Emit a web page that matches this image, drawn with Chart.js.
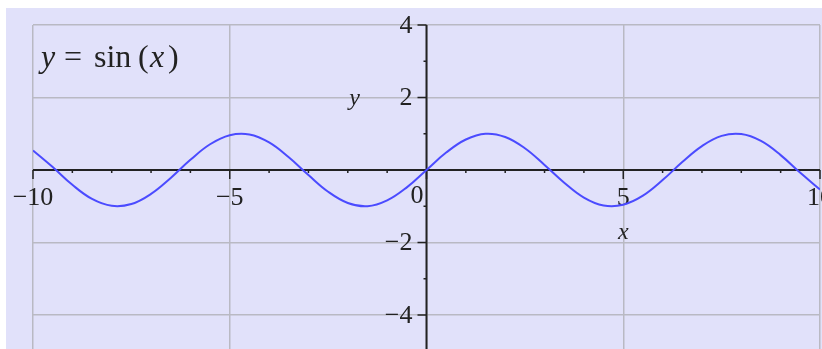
<!DOCTYPE html>
<html>
<head>
<meta charset="utf-8">
<script src="https://cdn.jsdelivr.net/npm/chart.js@4"></script>
<style>
 body{margin:0;background:#fff;}
 #wrap{width:822px;height:349px;position:relative;}
</style>
</head>
<body>
<div id="wrap"><canvas id="grafico"></canvas></div>
<script>
// valores (x cada 0.5)
const xs = [-10,-9.5,-9,-8.5,-8,-7.5,-7,-6.5,-6,-5.5,-5,-4.5,-4,-3.5,-3,-2.5,-2,-1.5,-1,-0.5,
            0,0.5,1,1.5,2,2.5,3,3.5,4,4.5,5,5.5,6,6.5,7,7.5,8,8.5,9,9.5,10];
const ys = [0.54,0.08,-0.41,-0.80,-0.99,-0.94,-0.66,-0.22,0.28,0.71,0.96,0.98,0.76,0.35,-0.14,-0.60,-0.91,-1.00,-0.84,-0.48,
            0,0.48,0.84,1.00,0.91,0.60,0.14,-0.35,-0.76,-0.98,-0.96,-0.71,-0.28,0.22,0.66,0.94,0.99,0.80,0.41,-0.08,-0.54];
const xTicks = [-10,-5,5,10];
const yTicks = [4,2,-2,-4];
const xMinor = [-9,-8,-7,-6,-4,-3,-2,-1,1,2,3,4,6,7,8,9];
const yMinor = [3,1,-1,-3];
const xRange = [-10,10];
const yRange = [-4.94,4];

const puntos = xs.map((x,i) => ({x:x, y:ys[i]}));
const MENOS = "\u2212";
const fuente = '"Liberation Serif", "Times New Roman", serif';

function etiqueta(v){ return v < 0 ? MENOS + Math.abs(v) : String(v); }

const fondo = {
 id:'fondo',
 beforeDraw(chart){
  const c = chart.ctx;
  c.save();
  c.fillStyle = '#ffffff';
  c.fillRect(0,0,chart.width,chart.height);
  c.fillStyle = 'rgb(225,225,250)';
  c.fillRect(6,8,chart.width-6,chart.height-8);
  c.restore();
 }
};

const ejes = {
 id:'ejes',
 beforeDatasetsDraw(chart){
  const c = chart.ctx, sx = chart.scales.x, sy = chart.scales.y;
  const x0 = sx.getPixelForValue(0), y0 = sy.getPixelForValue(0);
  c.save();
  c.strokeStyle = '#222';
  c.lineWidth = 2;
  c.beginPath();
  c.moveTo(sx.getPixelForValue(xRange[0]), y0); c.lineTo(sx.getPixelForValue(xRange[1]), y0);
  c.moveTo(x0, sy.getPixelForValue(yRange[1])); c.lineTo(x0, chart.height);
  c.stroke();

  c.lineWidth = 1.5;
  c.beginPath();
  [-10,-5,0,5,10].forEach(v => { const p = sx.getPixelForValue(v); c.moveTo(p,y0); c.lineTo(p,y0+9); });
  xMinor.forEach(v => { const p = sx.getPixelForValue(v); c.moveTo(p,y0); c.lineTo(p,y0+3); });
  yTicks.forEach(v => { const p = sy.getPixelForValue(v); c.moveTo(x0,p); c.lineTo(x0-9,p); });
  yMinor.forEach(v => { const p = sy.getPixelForValue(v); c.moveTo(x0,p); c.lineTo(x0-3,p); });
  c.stroke();

  c.fillStyle = '#222';
  c.font = '26px ' + fuente;
  c.textAlign = 'center';
  c.textBaseline = 'alphabetic';
  xTicks.forEach(v => c.fillText(etiqueta(v), sx.getPixelForValue(v), y0+35));
  c.textAlign = 'right';
  c.fillText('0', x0-3, y0+33);
  c.textBaseline = 'middle';
  yTicks.forEach(v => c.fillText(etiqueta(v), x0-14, sy.getPixelForValue(v)+1));

  // titulos de ejes
  c.font = 'italic 24px ' + fuente;
  c.textAlign = 'center';
  c.textBaseline = 'alphabetic';
  c.fillText('y', x0-72, sy.getPixelForValue(2)+8);
  c.fillText('x', sx.getPixelForValue(5), y0+69);

  // leyenda y = sin(x)
  c.textAlign = 'left';
  const base = 67;
  c.font = 'italic 32px ' + fuente; c.fillText('y', 41, base);
  c.font = '32px ' + fuente; c.fillText('=', 64, base);
  c.fillText('sin', 94, base);
  c.fillText('(', 138, base);
  c.font = 'italic 32px ' + fuente; c.fillText('x', 150, base);
  c.font = '32px ' + fuente; c.fillText(')', 168, base);
  c.restore();
 }
};

new Chart(document.getElementById('grafico'), {
 type:'line',
 data:{ datasets:[{
  label:'y = sin(x)',
  data:puntos,
  borderColor:'#4b4bff',
  borderWidth:2,
  pointRadius:0,
  tension:0.4,
  fill:false
 }]},
 options:{
  responsive:true,
  maintainAspectRatio:false,
  animation:false,
  layout:{ padding:{left:33, top:25, right:2, bottom:0} },
  plugins:{ legend:{display:false}, tooltip:{enabled:false} },
  scales:{
   x:{ type:'linear', min:xRange[0], max:xRange[1],
       ticks:{display:false, stepSize:5},
       grid:{color:'rgb(185,185,195)', lineWidth:1.5, drawTicks:false},
       border:{display:false} },
   y:{ type:'linear', min:yRange[0], max:yRange[1],
       ticks:{display:false, stepSize:2, includeBounds:false},
       grid:{color:'rgb(185,185,195)', lineWidth:1.5, drawTicks:false},
       border:{display:false} }
  }
 },
 plugins:[fondo, ejes]
});
</script>
</body>
</html>
